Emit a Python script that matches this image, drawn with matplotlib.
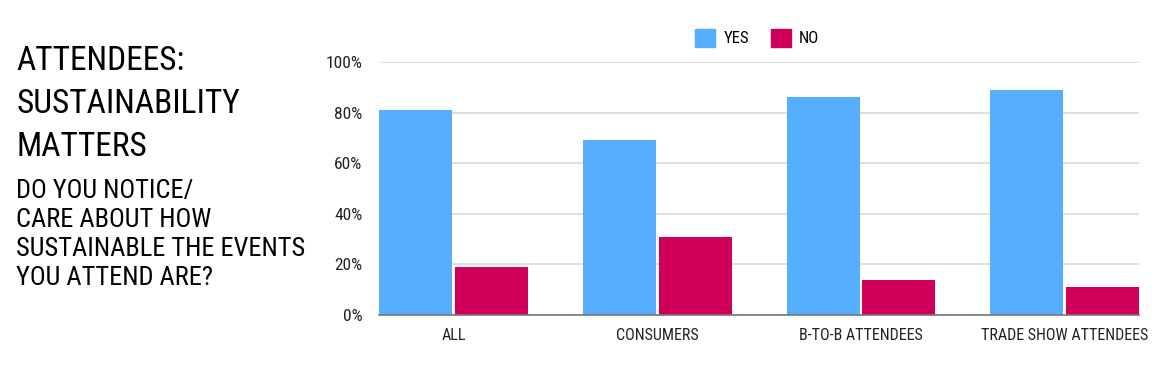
import numpy as np
import matplotlib.pyplot as plt
from matplotlib.ticker import PercentFormatter
from matplotlib.patches import Patch

categories = ['ALL', 'CONSUMERS', 'B-TO-B ATTENDEES', 'TRADE SHOW ATTENDEES']
yes_vals = [81, 69, 86, 89]
no_vals = [19, 31, 14, 11]

plt.rcParams['font.family'] = ['Roboto Condensed', 'Liberation Sans Narrow', 'DejaVu Sans']

blue = '#56aefe'
red = '#d0005a'

fig = plt.figure(figsize=(11.72, 3.9), dpi=100)
ax = fig.add_axes([0.3234, 0.192, 0.6485, 0.649])

x = np.arange(len(categories))
w = 0.358
gap = 0.007
ax.bar(x - w / 2 - gap, yes_vals, width=w, color=blue, zorder=3)
ax.bar(x + w / 2 + gap, no_vals, width=w, color=red, zorder=3)

ax.set_xlim(-w - gap, len(categories) - 1 + w + gap)
ax.set_ylim(0, 100)
ax.set_yticks(range(0, 101, 20))
ax.yaxis.set_major_formatter(PercentFormatter(decimals=0))
ax.set_xticks(x)
ax.set_xticklabels(categories)
ax.tick_params(length=0, labelsize=12.5, colors='#222222')
ax.tick_params(axis='x', labelsize=11.5, pad=9)
ax.tick_params(axis='y', pad=12)
ax.grid(axis='y', color='#d9d9d9', linewidth=1.2, zorder=0)
for s in ['top', 'right', 'left']:
    ax.spines[s].set_visible(False)
ax.spines['bottom'].set_color('#777777')
ax.spines['bottom'].set_linewidth(1.2)
ax.spines['bottom'].set_zorder(4)

handles = [Patch(color=blue, label='YES'), Patch(color=red, label='NO')]
fig.legend(handles=handles, loc='center', bbox_to_anchor=(0.646, 0.903), ncol=2,
           frameon=False, fontsize=12, handlelength=1.2, handleheight=1.3,
           columnspacing=1.3, handletextpad=0.5)

fig.text(0.014, 0.885, 'ATTENDEES:\nSUSTAINABILITY\nMATTERS', fontsize=24,
         va='top', ha='left', linespacing=1.45, color='black')
fig.text(0.014, 0.54, 'DO YOU NOTICE/\nCARE ABOUT HOW\nSUSTAINABLE THE EVENTS\nYOU ATTEND ARE?',
         fontsize=19, va='top', ha='left', linespacing=1.26, color='black')

fig.savefig('out.png', dpi=100)
